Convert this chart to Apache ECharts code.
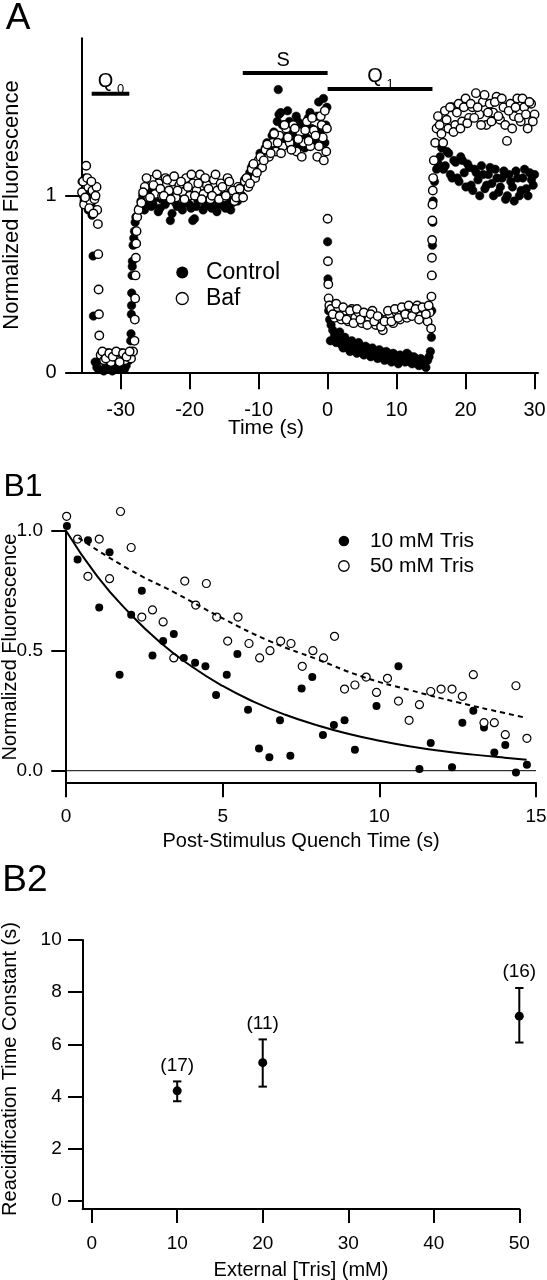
<!DOCTYPE html>
<html><head><meta charset="utf-8">
<script src="https://cdn.jsdelivr.net/npm/echarts@6/dist/echarts.min.js"></script>
<style>html,body{margin:0;padding:0;background:#fff}#c{width:547px;height:1280px}</style>
</head><body><div id="c"></div>
<script>
// ---------- Panel A : time course (two overlapping sweeps per condition) ----------
const controlA = [
[-35.6,1.08],[-35.3,0.97],[-35.0,1.02],[-34.7,0.92],[-34.4,1.0],[-34.15,0.89],
[-34.0,0.66],[-33.95,0.32],
[-33.7,0.06],[-33.2,0.02],[-32.7,0.08],[-32.2,0.03],[-31.7,0.07],[-31.2,0.01],[-30.7,0.06],[-30.2,0.03],[-29.7,0.08],[-29.2,0.04],[-28.8,0.07],
[-28.6,0.12],[-28.5,0.22],[-28.45,0.33],[-28.4,0.45],[-28.35,0.55],[-28.3,0.63],[-28.2,0.72],[-28.0,0.8],[-27.8,0.88],
[-27.3,0.93],[-26.8,1.0],[-26.3,0.96],[-25.8,1.02],[-25.3,0.95],[-24.8,0.99],[-24.3,0.93],[-23.8,1.01],[-23.3,0.97],[-22.8,0.86],
[-22.3,0.98],[-21.8,0.94],[-21.3,1.01],[-20.8,0.96],[-20.3,0.99],[-19.8,0.93],[-19.3,0.87],[-18.8,0.97],[-18.3,1.0],[-17.8,0.94],
[-17.3,0.98],[-16.8,0.93],[-16.3,1.0],[-15.8,0.95],[-15.3,0.98],[-14.8,0.93],[-14.3,0.99],[-13.8,0.96],[-13.3,1.0],
[-12.8,1.02],[-12.3,1.06],[-11.8,1.1],[-11.3,1.13],[-10.8,1.18],[-10.3,1.15],[-9.8,1.24],[-9.3,1.2],[-8.8,1.3],[-8.3,1.27],
[-7.8,1.36],[-7.3,1.42],[-7.16,1.6],[-6.8,1.47],[-6.3,1.33],[-5.8,1.48],[-5.3,1.38],[-4.8,1.3],[-4.3,1.42],[-3.8,1.35],
[-3.3,1.27],[-2.8,1.44],[-2.3,1.38],[-1.8,1.32],[-1.3,1.53],[-0.8,1.4],[-0.4,1.3],[-0.1,1.5],
[0.0,0.74],[0.05,0.53],[0.15,0.35],[0.3,0.3],[0.4,0.18],
[0.5,0.27],[1.0,0.21],[1.5,0.19],[2.0,0.16],[2.5,0.2],[3.0,0.14],[3.5,0.18],[4.0,0.13],[4.5,0.17],[5.0,0.12],
[5.5,0.15],[6.0,0.11],[6.5,0.14],[7.0,0.1],[7.5,0.13],[8.0,0.09],[8.5,0.12],[9.0,0.08],[9.5,0.11],[10.0,0.07],
[10.5,0.1],[11.0,0.08],[11.5,0.11],[12.0,0.06],[12.5,0.09],[13.0,0.05],[13.5,0.08],[14.0,0.05],[14.5,0.07],[14.9,0.12],
[15.05,0.2],[15.1,0.35],[15.15,0.55],[15.2,0.72],[15.25,0.85],[15.3,0.97],[15.5,1.08],[15.8,1.15],
[16.3,1.22],[16.8,1.15],[17.3,1.25],[17.8,1.12],[18.3,1.2],[18.8,1.1],[19.3,1.22],[19.8,1.13],[20.3,1.18],[20.8,1.06],
[21.3,1.15],[21.8,1.09],[22.3,1.17],[22.8,1.04],[23.3,1.12],[23.8,1.07],[24.3,1.15],[24.8,1.02],[25.3,1.1],[25.8,0.98],
[26.3,1.12],[26.8,1.05],[27.3,1.14],[27.8,1.0],[28.3,1.1],[28.8,1.04],[29.3,1.13],[29.8,1.06]
];
const controlA2 = [
[-35.45,1.0],[-35.15,1.1],[-34.85,0.95],[-34.55,1.05],[-34.25,0.94],
[-33.45,0.03],[-32.95,0.07],[-32.45,0.01],[-31.95,0.06],[-31.45,0.04],[-30.95,0.08],[-30.45,0.02],[-29.95,0.06],[-29.45,0.02],[-29.0,0.09],
[-28.55,0.18],[-28.42,0.38],[-28.32,0.6],[-28.1,0.76],[-27.9,0.85],
[-27.05,0.97],[-26.55,0.92],[-26.05,1.03],[-25.55,0.94],[-25.05,1.0],[-24.55,0.91],[-24.05,0.98],[-23.55,0.95],[-23.05,1.02],[-22.55,0.9],
[-22.05,0.96],[-21.55,1.0],[-21.05,0.92],[-20.55,0.98],[-20.05,0.95],[-19.55,0.86],[-19.05,0.94],[-18.55,1.01],[-18.05,0.92],[-17.55,0.99],
[-17.05,0.95],[-16.55,0.98],[-16.05,0.91],[-15.55,1.0],[-15.05,0.94],[-14.55,0.97],[-14.05,0.92],[-13.55,1.01],[-13.05,0.97],
[-12.55,1.0],[-12.05,1.09],[-11.55,1.05],[-11.05,1.16],[-10.55,1.12],[-10.05,1.2],[-9.55,1.16],[-9.05,1.27],[-8.55,1.23],[-8.05,1.34],
[-7.55,1.3],[-7.05,1.46],[-6.55,1.4],[-6.05,1.29],[-5.55,1.42],[-5.05,1.34],[-4.55,1.45],[-4.05,1.28],[-3.55,1.4],[-3.05,1.33],
[-2.55,1.47],[-2.05,1.3],[-1.55,1.45],[-1.05,1.36],[-0.6,1.55],[-0.25,1.4],
[0.75,0.24],[1.25,0.17],[1.75,0.23],[2.25,0.14],[2.75,0.18],[3.25,0.12],[3.75,0.16],[4.25,0.11],[4.75,0.15],[5.25,0.1],
[5.75,0.14],[6.25,0.09],[6.75,0.12],[7.25,0.08],[7.75,0.12],[8.25,0.07],[8.75,0.11],[9.25,0.06],[9.75,0.1],[10.25,0.05],
[10.75,0.09],[11.25,0.06],[11.75,0.1],[12.25,0.05],[12.75,0.08],[13.25,0.04],[13.75,0.07],[14.25,0.03],[14.7,0.09],
[16.05,1.18],[16.55,1.27],[17.05,1.17],[17.55,1.24],[18.05,1.1],[18.55,1.19],[19.05,1.08],[19.55,1.2],[20.05,1.05],[20.55,1.16],
[21.05,1.03],[21.55,1.13],[22.05,1.0],[22.55,1.12],[23.05,1.06],[23.55,1.16],[24.05,1.0],[24.55,1.1],[25.05,1.05],[25.55,1.14],
[26.05,1.0],[26.55,1.08],[27.05,0.97],[27.55,1.1],[28.05,1.03],[28.55,1.15],[29.05,1.0],[29.55,1.09],[30.0,1.12]
];
const bafA = [
[-35.6,1.02],[-35.3,0.95],[-35.0,1.17],[-34.7,1.05],[-34.4,0.97],[-34.1,1.03],[-33.8,0.98],[-33.5,1.05],[-33.4,0.92],
[-33.3,0.84],[-33.25,0.67],[-33.2,0.47],[-33.15,0.33],[-33.1,0.21],
[-32.9,0.1],[-32.4,0.07],[-31.9,0.11],[-31.4,0.06],[-30.9,0.1],[-30.4,0.08],[-29.9,0.11],[-29.4,0.07],[-28.9,0.1],[-28.5,0.08],
[-28.2,0.12],[-28.0,0.18],[-27.95,0.3],[-27.9,0.42],[-27.85,0.55],[-27.8,0.65],[-27.75,0.73],[-27.7,0.8],[-27.6,0.88],[-27.4,0.92],
[-27.0,0.96],[-26.5,1.05],[-26.0,0.99],[-25.5,1.09],[-25.0,1.01],[-24.5,1.07],[-24.0,1.0],[-23.5,1.1],[-23.0,1.03],[-22.5,1.08],
[-22.0,0.99],[-21.5,1.06],[-21.0,1.02],[-20.5,1.1],[-20.0,1.0],[-19.5,1.07],[-19.0,1.03],[-18.5,1.12],[-18.0,1.01],[-17.5,1.06],
[-17.0,0.98],[-16.5,1.09],[-16.0,1.03],[-15.5,1.07],[-15.0,0.99],[-14.5,1.1],[-14.0,1.02],[-13.5,0.97],[-13.0,1.05],
[-12.5,1.0],[-12.0,1.08],[-11.5,1.05],[-11.0,1.15],[-10.5,1.1],[-10.0,1.2],[-9.5,1.16],[-9.0,1.26],[-8.5,1.22],[-8.0,1.3],
[-7.5,1.25],[-7.0,1.34],[-6.5,1.28],[-6.0,1.38],[-5.5,1.3],[-5.0,1.4],[-4.5,1.25],[-4.0,1.36],[-3.5,1.3],[-3.0,1.42],
[-2.5,1.28],[-2.0,1.37],[-1.5,1.22],[-1.0,1.45],[-0.7,1.33],[-0.4,1.48],[-0.2,1.25],
[0.0,0.87],[0.05,0.63],[0.1,0.5],[0.15,0.42],[0.25,0.38],
[0.5,0.36],[1.0,0.31],[1.5,0.37],[2.0,0.3],[2.5,0.35],[3.0,0.29],[3.5,0.36],[4.0,0.31],[4.5,0.34],[5.0,0.28],
[5.5,0.33],[6.0,0.3],[6.5,0.35],[7.0,0.27],[7.5,0.31],[8.0,0.24],[8.5,0.3],[9.0,0.33],[9.5,0.28],[10.0,0.34],
[10.5,0.3],[11.0,0.36],[11.5,0.31],[12.0,0.37],[12.5,0.33],[13.0,0.38],[13.5,0.32],[14.0,0.36],[14.5,0.29],[14.8,0.34],
[15.0,0.25],[15.05,0.43],[15.1,0.55],[15.12,0.65],[15.15,0.75],[15.18,0.86],[15.2,0.95],[15.25,1.03],[15.3,1.1],[15.4,1.2],[15.6,1.3],[15.8,1.38],
[16.0,1.45],[16.5,1.35],[17.0,1.48],[17.5,1.38],[18.0,1.5],[18.5,1.4],[19.0,1.52],[19.5,1.42],[20.0,1.55],[20.5,1.44],
[21.0,1.5],[21.5,1.58],[22.0,1.46],[22.5,1.53],[23.0,1.4],[23.5,1.52],[24.0,1.47],[24.5,1.56],[25.0,1.43],[25.5,1.5],
[26.0,1.31],[26.5,1.52],[27.0,1.45],[27.5,1.55],[28.0,1.42],[28.5,1.5],[29.0,1.38],[29.5,1.52],[30.0,1.46]
];
const bafA2 = [
[-35.45,1.08],[-35.15,0.99],[-34.85,1.1],[-34.55,0.93],[-34.25,1.08],[-33.95,0.9],[-33.65,1.0],
[-32.65,0.12],[-32.15,0.08],[-31.65,0.11],[-31.15,0.09],[-30.65,0.12],[-30.15,0.06],[-29.65,0.11],[-29.15,0.09],[-28.7,0.12],
[-26.75,1.02],[-26.25,1.1],[-25.75,0.99],[-25.25,1.06],[-24.75,1.12],[-24.25,1.04],[-23.75,1.0],[-23.25,1.09],[-22.75,0.98],[-22.25,1.11],
[-21.75,1.03],[-21.25,1.08],[-20.75,0.98],[-20.25,1.05],[-19.75,1.12],[-19.25,1.0],[-18.75,1.07],[-18.25,0.98],[-17.75,1.1],[-17.25,1.04],
[-16.75,1.0],[-16.25,1.12],[-15.75,0.98],[-15.25,1.05],[-14.75,1.0],[-14.25,1.08],[-13.75,1.03],[-13.25,0.99],
[-12.75,1.04],[-12.25,0.99],[-11.75,1.1],[-11.25,1.07],[-10.75,1.18],[-10.25,1.13],[-9.75,1.22],[-9.25,1.2],[-8.75,1.29],[-8.25,1.24],
[-7.75,1.35],[-7.25,1.3],[-6.75,1.24],[-6.25,1.4],[-5.75,1.33],[-5.25,1.26],[-4.75,1.38],[-4.25,1.32],[-3.75,1.22],[-3.25,1.37],
[-2.75,1.31],[-2.25,1.44],[-1.75,1.34],[-1.25,1.28],[-0.85,1.4],[-0.55,1.2],[-0.1,1.38],
[0.75,0.33],[1.25,0.39],[1.75,0.32],[2.25,0.37],[2.75,0.3],[3.25,0.35],[3.75,0.28],[4.25,0.36],[4.75,0.3],[5.25,0.34],
[5.75,0.27],[6.25,0.33],[6.75,0.29],[7.25,0.32],[7.75,0.26],[8.25,0.29],[8.75,0.35],[9.25,0.29],[9.75,0.36],[10.25,0.31],
[10.75,0.37],[11.25,0.33],[11.75,0.38],[12.25,0.32],[12.75,0.36],[13.25,0.3],[13.75,0.37],[14.25,0.33],[14.65,0.38],
[16.25,1.4],[16.75,1.3],[17.25,1.43],[17.75,1.5],[18.25,1.36],[18.75,1.47],[19.25,1.38],[19.75,1.5],[20.25,1.41],[20.75,1.52],
[21.25,1.44],[21.75,1.5],[22.25,1.4],[22.75,1.57],[23.25,1.47],[23.75,1.42],[24.25,1.53],[24.75,1.45],[25.25,1.55],[25.75,1.4],
[26.25,1.48],[26.75,1.38],[27.25,1.5],[27.75,1.44],[28.25,1.55],[28.75,1.46],[29.25,1.53],[29.75,1.42]
];
// stimulus bars: [letter, subscript, start (s), end (s), level]
const stimBars = [['Q','0',-34.2,-28.75,1.577],['S','',-12.3,0,1.694],['Q','1',0,15.2,1.604]];
const ticksAx = [-30,-20,-10,0,10,20,30];
const ticksAy = [0,1];

// ---------- Panel B1 ----------
const t10 = [0.03,0.37,0.70,1.06,1.39,1.71,2.08,2.42,2.76,3.10,3.44,3.76,4.12,4.45,4.79,5.13,5.47,5.81,6.16,6.49,6.83,7.16,7.52,7.86,8.20,8.55,8.89,9.22,9.91,10.61,11.28,11.64,12.32,12.65,13.00,13.34,13.67,14.02,14.36,14.71];
const v10 = [1.02,0.88,0.96,0.68,0.91,0.40,0.65,0.75,0.48,0.54,0.57,0.47,0.45,0.435,0.315,0.40,0.486,0.254,0.093,0.056,0.21,0.0625,0.343,0.39,0.149,0.19,0.21,0.0875,0.27,0.435,0.007,0.115,0.014,0.20,0.25,0.18,0.076,0.107,-0.007,0.025];
const t50 = [0.02,0.37,0.70,1.06,1.39,1.74,2.08,2.42,2.76,3.10,3.44,3.79,4.14,4.48,4.81,5.16,5.49,5.84,6.18,6.51,6.85,7.18,7.54,7.88,8.22,8.57,8.89,9.22,9.58,9.91,10.26,10.61,10.95,11.28,11.64,11.97,12.32,12.65,13.00,13.34,13.67,14.02,14.36,14.71];
const v50 = [1.06,0.965,0.81,0.965,0.80,1.08,0.93,0.64,0.67,0.62,0.47,0.79,0.69,0.78,0.64,0.54,0.64,0.53,0.47,0.50,0.54,0.53,0.435,0.50,0.47,0.56,0.34,0.357,0.39,0.326,0.385,0.29,0.21,0.275,0.33,0.34,0.34,0.31,0.40,0.20,0.20,0.15,0.354,0.135];
const fit10T = [0,1,2,3,4,5,6,7,8,9,10,11,12,13,14,14.7];
const fit10V = [1.0,0.81,0.66,0.535,0.435,0.353,0.287,0.233,0.19,0.154,0.125,0.101,0.082,0.067,0.054,0.046];
const fit50T = [0.4,2,3.5,5,6.5,8,9.5,11,12.5,14,14.7];
const fit50V = [0.97,0.84,0.74,0.635,0.54,0.465,0.39,0.335,0.285,0.24,0.22];
const ticksB1x = [0,5,10,15];
const ticksB1y = [0,0.5,1.0];

// ---------- Panel B2 ----------
const tris = [10,20,50];
const tau = [4.22,5.30,7.08];
const tauLo = [3.82,4.38,6.07];
const tauHi = [4.58,6.19,8.16];
const nCells = ['(17)','(11)','(16)'];
const ticksB2x = [0,10,20,30,40,50];
const ticksB2y = [0,2,4,6,8,10];

const FONT = '"Liberation Sans", Arial, Helvetica, sans-serif';
const zip = (a,b) => a.map((x,i)=>[x,b[i]]);

function xAx(gi, min, max, ticks, tickLen, margin, fs) {
  return {type:'value', gridIndex:gi, min, max, splitLine:{show:false},
    axisLine:{onZero:false, lineStyle:{color:'#000', width:2}},
    axisTick:{customValues:ticks, length:tickLen, lineStyle:{color:'#000', width:2}},
    axisLabel:{customValues:ticks, margin, color:'#000', fontSize:fs, fontFamily:FONT}};
}
function yAx(gi, min, max, ticks, tickLen, margin, fmt, fs) {
  return {type:'value', gridIndex:gi, min, max, splitLine:{show:false},
    axisLine:{onZero:false, lineStyle:{color:'#000', width:2}},
    axisTick:{customValues:ticks, length:tickLen, lineStyle:{color:'#000', width:2}},
    axisLabel:{customValues:ticks, margin, color:'#000', fontSize:fs, fontFamily:FONT, formatter:fmt}};
}
function txt(text, x, y, size, opts) {
  return Object.assign({type:'text', x, y, style:{text, font: size+'px '+FONT, fill:'#000',
    textAlign:'center', textVerticalAlign:'middle', align:'center', verticalAlign:'middle'}}, opts||{});
}
const tstyle = (t, fs) => ({text:t, font:fs+'px '+FONT, fill:'#000', align:'center', verticalAlign:'middle', textAlign:'center', textVerticalAlign:'middle'});

const chart = echarts.init(document.getElementById('c'), null, {renderer:'canvas'});
chart.setOption({
  animation:false,
  backgroundColor:'#fff',
  grid:[
    {left:81.7, top:38.3, width:456.3, height:334.4, outerBoundsMode:'none'},
    {left:66, top:530.7, width:470, height:252, outerBoundsMode:'none'},
    {left:82.7, top:940, width:436.6, height:269, outerBoundsMode:'none'}
  ],
  xAxis:[
    xAx(0,-35.65,30.5,ticksAx,16.5,28,20),
    xAx(1,0,15,ticksB1x,14.5,25,19),
    xAx(2,-1.05,50,ticksB2x,14,25,19)
  ],
  yAxis:[
    yAx(0,0,1.89,ticksAy,16.5,25,v=>String(v),20),
    yAx(1,-0.05,1.0,ticksB1y,14.7,23,v=>v.toFixed(1),19),
    yAx(2,-0.31,10,ticksB2y,14.7,21,v=>String(v),19)
  ],
  legend:[
    {data:[{name:'Control', itemStyle:{color:'#000', borderColor:'#000', borderWidth:0}},
           {name:'Baf', itemStyle:{color:'#fff', borderColor:'#000', borderWidth:1.3}}],
     orient:'vertical', left:170.6, top:256, itemWidth:37.4, itemHeight:12, itemGap:3, icon:'circle',
     textStyle:{fontSize:23, fontFamily:FONT, color:'#000'}, selectedMode:false},
    {data:[{name:'10 mM Tris', itemStyle:{color:'#000', borderWidth:0}},
           {name:'50 mM Tris', itemStyle:{color:'#fff', borderColor:'#000', borderWidth:1.3}}],
     orient:'vertical', left:333, top:525.5, itemWidth:42, itemHeight:10.5, itemGap:4, icon:'circle',
     textStyle:{fontSize:21, fontFamily:FONT, color:'#000'}, selectedMode:false}
  ],
  series:[
    {name:'Control', type:'scatter', xAxisIndex:0, yAxisIndex:0, data:controlA.concat(controlA2), symbolSize:8.5, clip:false,
     itemStyle:{color:'#000', borderColor:'#000', borderWidth:0.5, opacity:1}},
    {name:'Baf', type:'scatter', xAxisIndex:0, yAxisIndex:0, data:bafA.concat(bafA2), symbolSize:8.5, clip:false,
     itemStyle:{color:'#fff', borderColor:'#000', borderWidth:1.4, opacity:1}},
    {type:'custom', xAxisIndex:0, yAxisIndex:0, data:stimBars.map(b=>[b[2],b[3],b[4]]), clip:false,
     renderItem:function(params, api){
       const b = stimBars[params.dataIndex];
       const p1 = api.coord([api.value(0), api.value(2)]);
       const p2 = api.coord([api.value(1), api.value(2)]);
       const cx = (p1[0]+p2[0])/2;
       const children = [{type:'line', shape:{x1:p1[0],y1:p1[1],x2:p2[0],y2:p2[1]}, style:{stroke:'#000', lineWidth:4}}];
       if (b[1]) {
         children.push({type:'text', x:cx-5, y:p1[1]-12, style:tstyle(b[0],20)});
         children.push({type:'text', x:cx+10, y:p1[1]-4.5, style:tstyle(b[1],13)});
       } else {
         children.push({type:'text', x:cx-2, y:p1[1]-12, style:tstyle(b[0],20)});
       }
       return {type:'group', children};
     }},
    {name:'zero', type:'line', xAxisIndex:1, yAxisIndex:1, data:[[0,0],[15,0]], showSymbol:false, symbol:'none',
     lineStyle:{color:'#000', width:1}},
    {name:'fit10', type:'line', xAxisIndex:1, yAxisIndex:1, data:zip(fit10T,fit10V), showSymbol:false, symbol:'none', smooth:true,
     lineStyle:{color:'#000', width:2}},
    {name:'fit50', type:'line', xAxisIndex:1, yAxisIndex:1, data:zip(fit50T,fit50V), showSymbol:false, symbol:'none', smooth:true,
     lineStyle:{color:'#000', width:2, type:[5,4]}},
    {name:'10 mM Tris', type:'scatter', xAxisIndex:1, yAxisIndex:1, data:zip(t10,v10), symbolSize:8, clip:false,
     itemStyle:{color:'#000', opacity:1}},
    {name:'50 mM Tris', type:'scatter', xAxisIndex:1, yAxisIndex:1, data:zip(t50,v50), symbolSize:8, clip:false,
     itemStyle:{color:'#fff', borderColor:'#000', borderWidth:1.2, opacity:1}},
    {type:'custom', xAxisIndex:2, yAxisIndex:2, data:tris.map((x,i)=>[x,tauLo[i],tauHi[i]]), clip:false,
     renderItem:function(params, api){
       const x = api.value(0);
       const ph = api.coord([x, api.value(2)]);
       const pl = api.coord([x, api.value(1)]);
       const w = 4.2;
       const st = {stroke:'#000', lineWidth:2};
       return {type:'group', children:[
         {type:'line', shape:{x1:ph[0],y1:ph[1],x2:pl[0],y2:pl[1]}, style:st},
         {type:'line', shape:{x1:ph[0]-w,y1:ph[1],x2:ph[0]+w,y2:ph[1]}, style:st},
         {type:'line', shape:{x1:pl[0]-w,y1:pl[1],x2:pl[0]+w,y2:pl[1]}, style:st},
         {type:'text', x:ph[0], y:ph[1]-16, style:tstyle(nCells[params.dataIndex],19)}
       ]};
     }},
    {name:'tau', type:'scatter', xAxisIndex:2, yAxisIndex:2, data:zip(tris,tau), symbolSize:9, clip:false,
     itemStyle:{color:'#000', opacity:1}}
  ],
  graphic:[
    txt('A', 18, 19, 37),
    txt('B1', 23, 487, 32),
    txt('B2', 25, 881, 37),
    txt('Normalized Fluorescence', 12, 205, 22, {rotation:Math.PI/2}),
    txt('Time (s)', 266, 428, 21),
    txt('Normalized Fluorescence', 10.5, 647, 20, {rotation:Math.PI/2}),
    txt('Post-Stimulus Quench Time (s)', 301, 841, 20),
    txt('Reacidification Time Constant (s)', 10.5, 1069, 20, {rotation:Math.PI/2}),
    txt('External [Tris] (mM)', 301, 1270, 20)
  ]
});
</script></body></html>
